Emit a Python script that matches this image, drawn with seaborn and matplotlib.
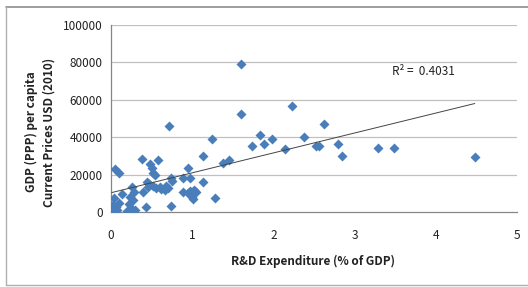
import numpy as np
import pandas as pd
import matplotlib
matplotlib.use('Agg')
import matplotlib.pyplot as plt
import seaborn as sns
from matplotlib.lines import Line2D

# R&D expenditure (% of GDP) per country
rd_spend = [0.02, 0.03, 0.04, 0.06, 0.05, 0.10, 0.08, 0.10, 0.14, 0.20,
            0.22, 0.24, 0.25, 0.26, 0.27, 0.28, 0.30, 0.38, 0.40, 0.43,
            0.44, 0.46, 0.47, 0.48, 0.50, 0.52, 0.54, 0.52, 0.56, 0.58,
            0.60, 0.62, 0.66, 0.68, 0.70, 0.72, 0.74, 0.74, 0.75, 0.89,
            0.89, 0.95, 0.97, 0.95, 0.97, 1.00, 1.01, 1.02, 1.05, 1.13,
            1.13, 1.24, 1.28, 1.38, 1.45, 1.60, 1.60, 1.74, 1.84, 1.89,
            1.98, 2.14, 2.23, 2.38, 2.52, 2.56, 2.62, 2.80, 2.84, 3.29,
            3.48, 4.48]
# GDP (PPP) per capita, current USD 2010
gdp_pc = [1500, 4000, 7500, 2500, 22800, 20700, 1000, 5000, 9600, 500,
          4500, 8000, 2000, 13500, 6500, 10500, 1000, 28500, 10900, 2800,
          16200, 13500, 15000, 25500, 23400, 20700, 19800, 14000, 13000, 27600,
          13500, 12500, 12000, 14000, 12800, 46000, 18000, 3200, 16500, 18000,
          10900, 23400, 18000, 10000, 11000, 8200, 7000, 11800, 10500, 29900,
          15900, 39000, 7300, 26000, 27800, 79000, 52200, 35100, 41000, 36400,
          38900, 33900, 56700, 39900, 35500, 35500, 46900, 36400, 29900, 34200,
          34400, 29600]

# linear trend line as shown in the chart
trend_slope = 10650
trend_intercept = 10300
r_squared = 0.4031

x_ticks = [0, 1, 2, 3, 4, 5]
y_ticks = [0, 20000, 40000, 60000, 80000, 100000]


def main():
    sns.set_style('white')
    plt.rcParams['font.family'] = ['Noto Sans CJK KR', 'DejaVu Sans']
    df = pd.DataFrame({'rd': rd_spend, 'gdp': gdp_pc})

    fig = plt.figure(figsize=(5.28, 2.87), dpi=100)
    ax = fig.add_axes([111 / 528, 1 - 212 / 287, 406 / 528, 187 / 287])

    for y in y_ticks[1:]:
        ax.axhline(y, color='#c0c0c0', lw=0.9, zorder=0)

    sns.scatterplot(data=df, x='rd', y='gdp', marker='D', s=26,
                    color='#4a7ebb', edgecolor='#4a7ebb', linewidth=0,
                    ax=ax, zorder=3)

    tx = np.array([min(rd_spend) - 0.01, max(rd_spend)])
    ax.plot(tx, trend_intercept + trend_slope * tx, color='#444444',
            lw=0.7, zorder=4)
    ax.text(3.46, 75000, 'R² =  %.4f' % r_squared, fontsize=8.5,
            va='center', ha='left', color='#222222')

    ax.set_xlim(0, 5)
    ax.set_ylim(0, 100000)
    ax.set_xticks(x_ticks)
    ax.set_yticks(y_ticks)
    ax.set_xticklabels([str(t) for t in x_ticks])
    ax.set_yticklabels([str(t) for t in y_ticks])
    ax.tick_params(axis='x', length=3, width=0.8, color='#868686',
                   pad=9.5, labelsize=8.5, labelcolor='#222222')
    ax.tick_params(axis='y', length=3, width=0.8, color='#868686',
                   pad=3, labelsize=8.5, labelcolor='#222222')
    sns.despine(ax=ax)
    for side in ['left', 'bottom']:
        ax.spines[side].set_color('#868686')
        ax.spines[side].set_linewidth(0.9)
    ax.set_xlabel('')
    ax.set_ylabel('')

    fig.text(313 / 528, 1 - 261 / 287, 'R&D Expenditure (% of GDP)',
             fontsize=8.5, fontweight='bold', ha='center', va='center',
             color='#222222')
    fig.text(40 / 528, 1 - 132 / 287,
             'GDP (PPP) per capita\nCurrent Prices USD (2010)',
             fontsize=8.5, fontweight='bold', ha='center', va='center',
             rotation=90, color='#222222', linespacing=1.45)

    # chart frame
    fig.add_artist(Line2D([6 / 528, 1], [1 - 6.5 / 287] * 2,
                          color='#8c8c8c', lw=1.2, transform=fig.transFigure))
    fig.add_artist(Line2D([6 / 528] * 2, [1 - 6.5 / 287, 1 - 284.5 / 287],
                          color='#b0b0b0', lw=1.0, transform=fig.transFigure))
    fig.add_artist(Line2D([6 / 528, 1], [1 - 284.5 / 287] * 2,
                          color='#b0b0b0', lw=1.0, transform=fig.transFigure))

    fig.savefig('out.png', dpi=100)


if __name__ == '__main__':
    main()
